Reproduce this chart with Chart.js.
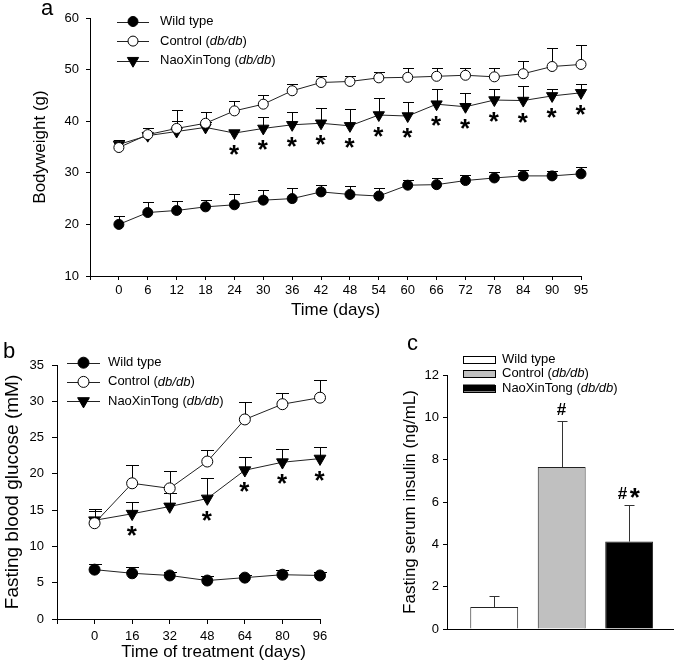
<!DOCTYPE html>
<html>
<head>
<meta charset="utf-8">
<title>NaoXinTong in db/db mice</title>
<script src="https://cdn.jsdelivr.net/npm/chart.js"></script>
<style>
body{margin:0;background:#fff;width:675px;height:665px;position:relative;overflow:hidden}
canvas{position:absolute}
#chartA{left:0;top:0}
#chartB{left:0;top:330px}
#chartC{left:330px;top:330px}
</style>
</head>
<body>
<canvas id="chartA" width="675" height="330"></canvas>
<canvas id="chartB" width="330" height="335"></canvas>
<canvas id="chartC" width="345" height="335"></canvas>
<script>
const FONT = '"Liberation Sans", Arial, Helvetica, sans-serif';

// group names, "db/db" gets set in italics when drawn
const seriesNames = ["Wild type", "Control (db/db)", "NaoXinTong (db/db)"];

// a: bodyweight (g)
const dayLabels = [0, 6, 12, 18, 24, 30, 36, 42, 48, 54, 60, 66, 72, 78, 84, 90, 95];
const wtWeight = [20.0, 22.3, 22.7, 23.4, 23.8, 24.7, 25.0, 26.3, 25.8, 25.5, 27.6, 27.7, 28.5, 29.0, 29.4, 29.4, 29.8];
const wtWeightErr = [1.6, 2.0, 1.8, 1.4, 2.1, 1.9, 2.0, 1.4, 1.6, 1.5, 1.1, 1.2, 1.1, 1.2, 1.1, 1.0, 1.4];
const ctrlWeight = [34.9, 37.4, 38.6, 39.6, 42.0, 43.3, 45.9, 47.5, 47.7, 48.4, 48.5, 48.7, 48.9, 48.6, 49.2, 50.6, 51.0];
const ctrlWeightErr = [1.5, 1.3, 1.5, 2.1, 2.0, 1.8, 1.3, 1.3, 1.1, 1.1, 1.8, 1.7, 1.4, 1.8, 2.4, 3.5, 3.7];
const nxtWeight = [35.5, 37.2, 38.0, 38.8, 37.7, 38.6, 39.3, 39.6, 39.1, 41.2, 41.0, 43.3, 42.8, 44.1, 44.0, 44.9, 45.5];
const nxtWeightErr = [0.9, 1.5, 4.1, 1.0, 0.5, 2.2, 2.5, 3.0, 3.2, 3.2, 2.7, 2.9, 2.6, 2.1, 2.8, 1.3, 1.8];
const weightMarks = ["", "", "", "", "*", "*", "*", "*", "*", "*", "*", "*", "*", "*", "*", "*", "*"];

// b: fasting blood glucose (mM)
const treatDays = [0, 16, 32, 48, 64, 80, 96];
const wtGlucose = [6.8, 6.3, 6.0, 5.3, 5.7, 6.1, 6.0];
const wtGlucoseErr = [0.8, 0.9, 0.5, 0.6, 0.4, 0.7, 0.5];
const ctrlGlucose = [13.2, 18.7, 18.0, 21.7, 27.5, 29.6, 30.5];
const ctrlGlucoseErr = [2.0, 2.5, 2.4, 1.6, 2.4, 1.5, 2.4];
const nxtGlucose = [13.6, 14.5, 15.5, 16.6, 20.5, 21.6, 22.1];
const nxtGlucoseErr = [1.3, 1.6, 1.8, 2.8, 1.8, 1.8, 1.6];
const glucoseMarks = ["", "*", "", "*", "*", "*", "*"];

// c: fasting serum insulin (ng/mL)
const insulin = [1.04, 7.65, 4.13];
const insulinErr = [0.53, 2.17, 1.73];
const insulinMarks = ["", "#", "#*"];

const markerStyles = [
  { pointStyle: "circle", fill: "#000", radius: 5, rotation: 0 },
  { pointStyle: "circle", fill: "#fff", radius: 5, rotation: 0 },
  { pointStyle: "triangle", fill: "#000", radius: 6.5, rotation: 180 }
];
const barColors = ["#ffffff", "#c0c0c0", "#000000"];

function pts(values){
  return values.map((v, i) => ({ x: i, y: v }));
}

function lineSet(i, values, err, grow){
  const m = markerStyles[i];
  return {
    label: seriesNames[i],
    data: pts(values),
    err: err,
    borderColor: "#222",
    borderWidth: 1,
    tension: 0,
    clip: false,
    pointStyle: m.pointStyle,
    pointRotation: m.rotation,
    pointRadius: m.radius + grow,
    pointBackgroundColor: m.fill,
    pointBorderColor: "#000",
    pointBorderWidth: 1
  };
}

function valueAxis(min, max, step, title, titleSize, titlePad, width, tickPad, tickLen){
  return {
    min: min, max: max,
    ticks: { stepSize: step, padding: tickPad, color: "#000", font: { size: 13 } },
    grid: { drawOnChartArea: false, color: "#000", tickLength: tickLen },
    border: { color: "#000" },
    title: { display: true, text: title, color: "#000", font: { size: titleSize }, padding: { top: titlePad, bottom: 0 } },
    afterFit: s => { s.width = width; s.paddingTop = 0; s.paddingBottom = 0; }
  };
}

function indexAxis(labels, title, align, titlePad, height, tickLen, tickPad){
  return {
    type: "linear", min: -1, max: labels.length - 1,
    afterBuildTicks: s => { s.ticks = [-1].concat(labels.map((l, i) => i)).map(v => ({ value: v })); },
    ticks: { autoSkip: false, maxRotation: 0, padding: tickPad, color: "#000", font: { size: 13 },
      callback: v => v >= 0 ? String(labels[v]) : "" },
    grid: { drawOnChartArea: false, color: "#000", tickLength: tickLen },
    border: { color: "#000" },
    title: { display: true, text: title, align: align, color: "#000", font: { size: 17 }, padding: { top: 0, bottom: titlePad } },
    afterFit: s => { s.height = height; s.paddingLeft = 0; s.paddingRight = 0; }
  };
}

// upward error bars, drawn under the markers
function errorBars(capHalf, color){
  return {
    id: "errorBars",
    beforeDatasetsDraw(chart){
      const ctx = chart.ctx, y = chart.scales.y;
      ctx.save();
      ctx.strokeStyle = color;
      ctx.lineWidth = 1;
      chart.data.datasets.forEach((ds, i) => {
        if(!ds.err) return;
        chart.getDatasetMeta(i).data.forEach((el, j) => {
          const v = ds.data[j].y;
          const x = Math.round(el.x) + 0.5;
          const top = Math.round(y.getPixelForValue(v + ds.err[j])) + 0.5;
          ctx.beginPath();
          ctx.moveTo(x, y.getPixelForValue(v));
          ctx.lineTo(x, top);
          ctx.moveTo(x - capHalf, top);
          ctx.lineTo(x + capHalf, top);
          ctx.stroke();
        });
      });
      ctx.restore();
    }
  };
}

function drawMark(ctx, text, cx, cy){
  ctx.save();
  ctx.fillStyle = "#000";
  ctx.textAlign = "left";
  ctx.textBaseline = "alphabetic";
  const glyphs = text.split("").map(c => {
    ctx.font = "bold " + (c === "*" ? 26 : 17) + "px " + FONT;
    return { c: c, font: ctx.font, m: ctx.measureText(c) };
  });
  const inkW = g => g.m.actualBoundingBoxLeft + g.m.actualBoundingBoxRight;
  const total = glyphs.reduce((s, g) => s + inkW(g), 0) + (glyphs.length - 1) * 2;
  let x = cx - total / 2;
  glyphs.forEach(g => {
    ctx.font = g.font;
    ctx.fillText(g.c, x + g.m.actualBoundingBoxLeft, cy + (g.m.actualBoundingBoxAscent - g.m.actualBoundingBoxDescent) / 2);
    x += inkW(g) + 2;
  });
  ctx.restore();
}

// significance marks, below a point or above its error bar
function sigMarks(dsIndex, marks, offset, aboveError){
  return {
    id: "sigMarks",
    afterDatasetsDraw(chart){
      const ds = chart.data.datasets[dsIndex], y = chart.scales.y;
      chart.getDatasetMeta(dsIndex).data.forEach((el, j) => {
        if(!marks[j]) return;
        const base = aboveError ? y.getPixelForValue(ds.data[j].y + ds.err[j]) : el.y;
        drawMark(chart.ctx, marks[j], el.x, base + offset);
      });
    }
  };
}

function richText(ctx, text, x, y, size){
  text.split(/(db\/db)/).forEach(p => {
    if(!p) return;
    ctx.font = (p === "db/db" ? "italic " : "") + size + "px " + FONT;
    ctx.fillText(p, x, y);
    x += ctx.measureText(p).width;
  });
}

function drawMarker(ctx, ds, x, y){
  const r = ds.pointRadius;
  ctx.beginPath();
  if(ds.pointStyle === "triangle"){
    ctx.moveTo(x, y + r);
    ctx.lineTo(x - r * 0.866, y - r / 2);
    ctx.lineTo(x + r * 0.866, y - r / 2);
    ctx.closePath();
  } else {
    ctx.arc(x, y, r, 0, Math.PI * 2);
  }
  ctx.fillStyle = ds.pointBackgroundColor;
  ctx.fill();
  ctx.lineWidth = 1;
  ctx.strokeStyle = ds.pointBorderColor;
  ctx.stroke();
}

function lineLegend(x0, x1, tx, y0, dy){
  return {
    id: "lineLegend",
    afterDraw(chart){
      const ctx = chart.ctx;
      ctx.save();
      ctx.textBaseline = "middle";
      chart.data.datasets.forEach((ds, i) => {
        const y = y0 + i * dy;
        ctx.strokeStyle = "#222";
        ctx.lineWidth = 1;
        ctx.beginPath();
        ctx.moveTo(x0, Math.round(y) + 0.5);
        ctx.lineTo(x1, Math.round(y) + 0.5);
        ctx.stroke();
        drawMarker(ctx, ds, (x0 + x1) / 2, y);
        ctx.fillStyle = "#000";
        richText(ctx, ds.label, tx, y, 13);
      });
      ctx.restore();
    }
  };
}

function boxLegend(x0, x1, h, tx, y0, dy){
  return {
    id: "boxLegend",
    afterDraw(chart){
      const ctx = chart.ctx, ds = chart.data.datasets[0];
      ctx.save();
      ctx.textBaseline = "middle";
      seriesNames.forEach((name, i) => {
        const y = y0 + i * dy;
        ctx.fillStyle = ds.backgroundColor[i];
        ctx.fillRect(x0, y - h / 2, x1 - x0, h);
        ctx.strokeStyle = "#000";
        ctx.lineWidth = 1;
        ctx.strokeRect(x0 + 0.5, Math.round(y - h / 2) + 0.5, x1 - x0, h);
        ctx.fillStyle = "#000";
        richText(ctx, name, tx, y, 13);
      });
      ctx.restore();
    }
  };
}

function panelLetter(letter, x, y){
  return {
    id: "panelLetter",
    afterDraw(chart){
      const ctx = chart.ctx;
      ctx.save();
      ctx.font = "22px " + FONT;
      ctx.fillStyle = "#000";
      ctx.textBaseline = "alphabetic";
      ctx.fillText(letter, x, y);
      ctx.restore();
    }
  };
}

Chart.defaults.font.family = FONT;
Chart.defaults.color = "#000";

const common = {
  responsive: false,
  animation: false,
  events: [],
  plugins: { legend: { display: false }, tooltip: { enabled: false } }
};

// a
new Chart(document.getElementById("chartA"), {
  type: "line",
  data: {
    datasets: [
      lineSet(0, wtWeight, wtWeightErr, 0),
      lineSet(1, ctrlWeight, ctrlWeightErr, 0),
      lineSet(2, nxtWeight, nxtWeightErr, 0)
    ]
  },
  options: Object.assign({}, common, {
    layout: { padding: { left: 0, top: 18, right: 94, bottom: 0 } },
    scales: {
      x: indexAxis(dayLabels, "Time (days)", "center", 9.8, 54, 4, 2.5),
      y: valueAxis(10, 60, 10, "Bodyweight (g)", 17, 29.8, 90, 7, 4)
    }
  }),
  plugins: [errorBars(5.5, "#000"), sigMarks(2, weightMarks, 17, false), lineLegend(117, 149, 160, 21.5, 19.6), panelLetter("a", 41, 15)]
});

// b
new Chart(document.getElementById("chartB"), {
  type: "line",
  data: {
    datasets: [
      lineSet(0, wtGlucose, wtGlucoseErr, 0.5),
      lineSet(1, ctrlGlucose, ctrlGlucoseErr, 0.5),
      lineSet(2, nxtGlucose, nxtGlucoseErr, 0.3)
    ]
  },
  options: Object.assign({}, common, {
    layout: { padding: { left: 0, top: 35, right: 10, bottom: 0 } },
    scales: {
      x: indexAxis(treatDays, "Time of treatment (days)   ", "end", 2.1, 46, 5, 4.5),
      y: valueAxis(0, 35, 5, "Fasting blood glucose (mM)", 19, 1.1, 57, 8, 5)
    }
  }),
  plugins: [errorBars(6.5, "#000"), sigMarks(2, glucoseMarks, 17, false), lineLegend(67, 100, 108, 32.7, 19.2), panelLetter("b", 3, 28)]
});

// c
new Chart(document.getElementById("chartC"), {
  type: "bar",
  data: {
    datasets: [{
      label: "Fasting serum insulin",
      data: pts(insulin),
      err: insulinErr,
      backgroundColor: barColors,
      borderColor: "#222",
      borderWidth: 1,
      barPercentage: 0.71,
      categoryPercentage: 1
    }]
  },
  options: Object.assign({}, common, {
    layout: { padding: { left: 0, top: 45, right: 2, bottom: 0 } },
    scales: {
      x: {
        type: "linear", min: -0.7, max: 2.65, offset: false,
        afterBuildTicks: s => { s.ticks = insulin.map((v, i) => ({ value: i })); },
        ticks: { display: false },
        grid: { display: false },
        border: { color: "#000" },
        afterFit: s => { s.height = 36; s.paddingLeft = 0; s.paddingRight = 0; }
      },
      y: valueAxis(0, 12, 2, "Fasting serum insulin (ng/mL)", 17, 70.5, 117, 4, 4)
    }
  }),
  plugins: [errorBars(5, "#333"), sigMarks(0, insulinMarks, -12, true), boxLegend(133, 165, 7, 172, 29, 14.5), panelLetter("c", 77, 20)]
});
</script>
</body>
</html>
